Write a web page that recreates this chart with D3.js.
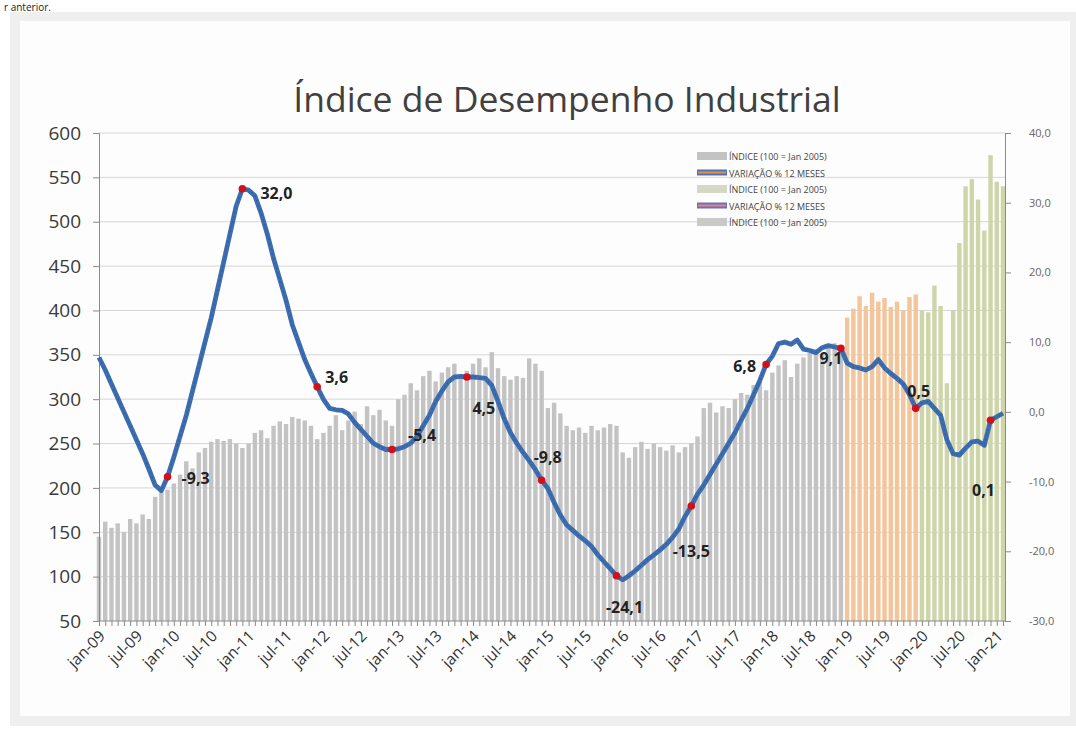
<!DOCTYPE html>
<html>
<head>
<meta charset="utf-8">
<script src="https://cdn.jsdelivr.net/npm/d3@7"></script>
<style>
  body { margin: 0; background: #fff; }
  svg { display: block; }
</style>
</head>
<body>
<div id="chart"></div>
<script>
const WIDTH = 1076;
const HEIGHT = 731;

// categories: jan-09 .. fev-21
const MONTH_NAMES = ["jan", "fev", "mar", "abr", "mai", "jun", "jul", "ago", "set", "out", "nov", "dez"];
const YEARS = ["09", "10", "11", "12", "13", "14", "15", "16", "17", "18", "19", "20", "21"];
const months = [];
YEARS.forEach(y => MONTH_NAMES.forEach(m => months.push(m + "-" + y)));
months.splice(146);

// ÍNDICE (100 = Jan 2005), left axis
const indice = [
  145, 162, 155, 160, 150, 165, 160, 170, 165, 190, 195, 198,
  205, 215, 230, 222, 240, 245, 252, 255, 253, 255, 250, 245,
  250, 262, 265, 256, 270, 275, 272, 280, 278, 276, 270, 255,
  262, 270, 282, 265, 276, 286, 272, 292, 282, 288, 276, 270,
  300, 305, 318, 310, 326, 332, 320, 330, 336, 340, 326, 332,
  340, 346, 336, 353, 335, 326, 322, 326, 324, 346, 340, 332,
  290, 296, 284, 270, 265, 268, 262, 270, 265, 268, 272, 270,
  240, 234, 246, 252, 244, 250, 246, 242, 248, 240, 246, 250,
  258, 290, 296, 285, 292, 290, 300, 307, 305, 316, 320, 310,
  330, 338, 344, 325, 340, 347, 352, 356, 350, 360, 363, 355,
  392, 402, 416, 405, 420, 410, 414, 404, 410, 400, 415, 418,
  400, 398, 428, 405, 318, 400, 476, 540, 548, 525, 490, 575,
  545, 540
];

// VARIAÇÃO % 12 MESES, right axis
const variacao = [
  7.8, 6.0, 4.0, 2.0, 0.0, -2.0, -4.0, -6.0, -8.2, -10.5, -11.3, -9.3,
  -6.5, -3.5, -0.5, 3.0, 6.5, 10.0, 13.5, 17.5, 21.5, 25.5, 29.5, 32.0,
  31.8, 31.0, 28.5, 25.5, 22.0, 19.0, 16.0, 12.5, 10.0, 7.5, 5.5, 3.6,
  1.8, 0.5, 0.3, 0.2, -0.3, -1.5, -2.5, -3.5, -4.5, -5.0, -5.4, -5.4,
  -5.3, -5.0, -4.5, -3.5, -2.0, -0.5, 1.5, 3.0, 4.3, 5.0, 5.1, 5.0,
  5.0, 4.9, 4.8, 3.8, 1.5, -1.0, -3.0, -4.5, -5.8, -7.0, -8.3, -9.8,
  -11.0, -13.0, -14.8, -16.2, -17.0, -17.8, -18.5, -19.3, -20.5, -21.5, -22.5, -23.5,
  -24.1, -23.5, -22.8, -22.0, -21.2, -20.5, -19.8, -19.0, -18.0, -16.8, -15.0, -13.5,
  -11.8, -10.5, -9.0, -7.5, -6.0, -4.5, -3.0, -1.2, 0.5, 2.5, 4.5, 6.8,
  8.0, 9.8, 10.0, 9.7, 10.3, 9.0, 8.8, 8.5, 9.2, 9.5, 9.3, 9.1,
  7.0, 6.5, 6.3, 6.0, 6.5, 7.5, 6.3, 5.5, 4.8, 4.0, 2.5, 0.5,
  1.3, 1.5, 0.5, -0.5, -4.0, -6.0, -6.2, -5.2, -4.3, -4.2, -4.8, -1.2,
  -0.7, -0.2
];

// labelled points (December of each year) and their texts
const labelMonths = ["dez-09", "dez-10", "dez-11", "dez-12", "dez-13", "dez-14", "dez-15", "dez-16", "dez-17", "dez-18", "dez-19", "dez-20"];
const labelTexts = ["-9,3", "32,0", "3,6", "-5,4", "4,5", "-9,8", "-24,1", "-13,5", "6,8", "9,1", "0,5", "0,1"];
const labelOffsets = [[14, 7, "start"], [18, 10, "start"], [8, -4, "start"], [16, -9, "start"], [17, 37, "middle"], [6, -17, "middle"],
  [8, 37, "middle"], [0, 51, "middle"], [-10, 8, "end"], [-10, 16, "middle"], [3, -11, "middle"], [-7, 76, "middle"]];

const xTickLabels = months.filter((d, i) => i % 6 === 0);
const leftTicks = [50, 100, 150, 200, 250, 300, 350, 400, 450, 500, 550, 600];
const rightTicks = [-30, -20, -10, 0, 10, 20, 30, 40];

const legendItems = ["ÍNDICE (100 = Jan 2005)", "VARIAÇÃO % 12 MESES", "ÍNDICE (100 = Jan 2005)", "VARIAÇÃO % 12 MESES", "ÍNDICE (100 = Jan 2005)"];

const svg = d3.select("#chart").append("svg")
  .attr("width", WIDTH)
  .attr("height", HEIGHT);

// frame
svg.append("text")
  .attr("x", 4).attr("y", 10.5)
  .style("font-family", "Open Sans").style("font-size", "10px").style("fill", "#222")
  .text("r anterior.");
svg.append("rect").attr("x", 10).attr("y", 12).attr("width", 1066).attr("height", 714).attr("fill", "#efefef");
svg.append("rect").attr("x", 20).attr("y", 21).attr("width", 1050).attr("height", 695).attr("fill", "#fdfdfd");

const x = d3.scalePoint().domain(months).range([99, 1003]);
const yL = d3.scaleLinear().domain([50, 600]).range([621, 133]);
const yR = d3.scaleLinear().domain([-30, 40]).range([621, 133]);

// gridlines
svg.append("g")
  .selectAll("line")
  .data(leftTicks.slice(1))
  .enter().append("line")
  .attr("x1", 99).attr("x2", 1005)
  .attr("y1", d => yL(d)).attr("y2", d => yL(d))
  .attr("stroke", "#d6d6d6").attr("stroke-width", 1);

// bars
function barColor(i) {
  if (i >= 132) return "#cdd5a9";
  if (i >= 120) return "#f2c59b";
  return "#c3c3c3";
}
svg.append("g")
  .selectAll("rect")
  .data(indice)
  .enter().append("rect")
  .attr("x", (d, i) => x(months[i]) - 2.2)
  .attr("width", 4.4)
  .attr("y", d => yL(d))
  .attr("height", d => 621 - yL(d))
  .attr("fill", (d, i) => barColor(i));

// axes
const leftAxis = svg.append("g")
  .attr("transform", "translate(99,0)")
  .call(d3.axisLeft(yL).tickValues(leftTicks).tickSize(6).tickPadding(12));
leftAxis.selectAll("text").style("font-family", "Open Sans").style("font-size", "19px").style("fill", "#3a3a3a");

const rightAxis = svg.append("g")
  .attr("transform", "translate(1005,0)")
  .call(d3.axisRight(yR).tickValues(rightTicks).tickSize(6).tickPadding(18)
    .tickFormat(d => d.toFixed(1).replace(".", ",")));
rightAxis.selectAll("text").style("font-family", "Open Sans").style("font-size", "11px").style("fill", "#666");

const bottomAxis = svg.append("g")
  .attr("transform", "translate(0,621)")
  .call(d3.axisBottom(x).tickSize(5).tickFormat(""));
bottomAxis.select(".domain").attr("d", "M99,0H1005");

[leftAxis, rightAxis, bottomAxis].forEach(g => {
  g.selectAll("line").attr("stroke", "#8a8a8a");
  g.select(".domain").attr("stroke", "#8a8a8a");
});

svg.append("g")
  .selectAll("text")
  .data(xTickLabels)
  .enter().append("text")
  .attr("transform", d => `translate(${x(d) + 7},${637}) rotate(-45)`)
  .style("font-family", "Open Sans").style("font-size", "15.5px").style("fill", "#333")
  .style("text-anchor", "end")
  .text(d => d);

// line
const line = d3.line()
  .x((d, i) => x(months[i]))
  .y(d => yR(d));
svg.append("path")
  .datum(variacao)
  .attr("fill", "none")
  .attr("stroke", "#3d6db1")
  .attr("stroke-width", 4.8)
  .attr("stroke-linejoin", "round")
  .attr("d", line);
svg.append("path")
  .datum(variacao)
  .attr("fill", "none")
  .attr("stroke", "#2f5f86")
  .attr("stroke-width", 1.2)
  .attr("stroke-dasharray", "2,3")
  .attr("opacity", 0.7)
  .attr("d", line);

// red points and labels
svg.append("g")
  .selectAll("circle")
  .data(labelMonths)
  .enter().append("circle")
  .attr("cx", d => x(d))
  .attr("cy", d => yR(variacao[months.indexOf(d)]))
  .attr("r", 3.8)
  .attr("fill", "#d0101c");

svg.append("g")
  .selectAll("text")
  .data(labelMonths)
  .enter().append("text")
  .attr("x", (d, i) => x(d) + labelOffsets[i][0])
  .attr("y", (d, i) => yR(variacao[months.indexOf(d)]) + labelOffsets[i][1])
  .style("text-anchor", (d, i) => labelOffsets[i][2])
  .style("font-family", "Open Sans").style("font-size", "16px").style("font-weight", "bold").style("fill", "#222")
  .text((d, i) => labelTexts[i]);

// title
svg.append("text")
  .attr("x", 567).attr("y", 112)
  .style("text-anchor", "middle")
  .style("font-family", "Open Sans").style("font-size", "35.5px").style("fill", "#404040")
  .text("Índice de Desempenho  Industrial");

// legend
const legendColors = [["#c3c3c3", null], ["#f08a3c", "#4a76b8"], ["#d4d8c4", null], ["#e8827a", "#6a6fc0"], ["#c9c9c9", null]];
const legend = svg.append("g").attr("transform", "translate(697,150)");
legendItems.forEach((t, i) => {
  const g = legend.append("g").attr("transform", `translate(0,${i * 16.5})`);
  const c = legendColors[i];
  if (c[1]) {
    g.append("rect").attr("x", 0).attr("y", 3).attr("width", 30).attr("height", 6).attr("fill", c[1]);
    g.append("rect").attr("x", 1).attr("y", 5).attr("width", 28).attr("height", 2).attr("fill", c[0]);
  } else {
    g.append("rect").attr("x", 0).attr("y", 2).attr("width", 30).attr("height", 8).attr("fill", c[0]);
  }
  g.append("text").attr("x", 32).attr("y", 10)
    .style("font-family", "Open Sans").style("font-size", "9px").style("fill", "#444")
    .text(t);
});
</script>
</body>
</html>
